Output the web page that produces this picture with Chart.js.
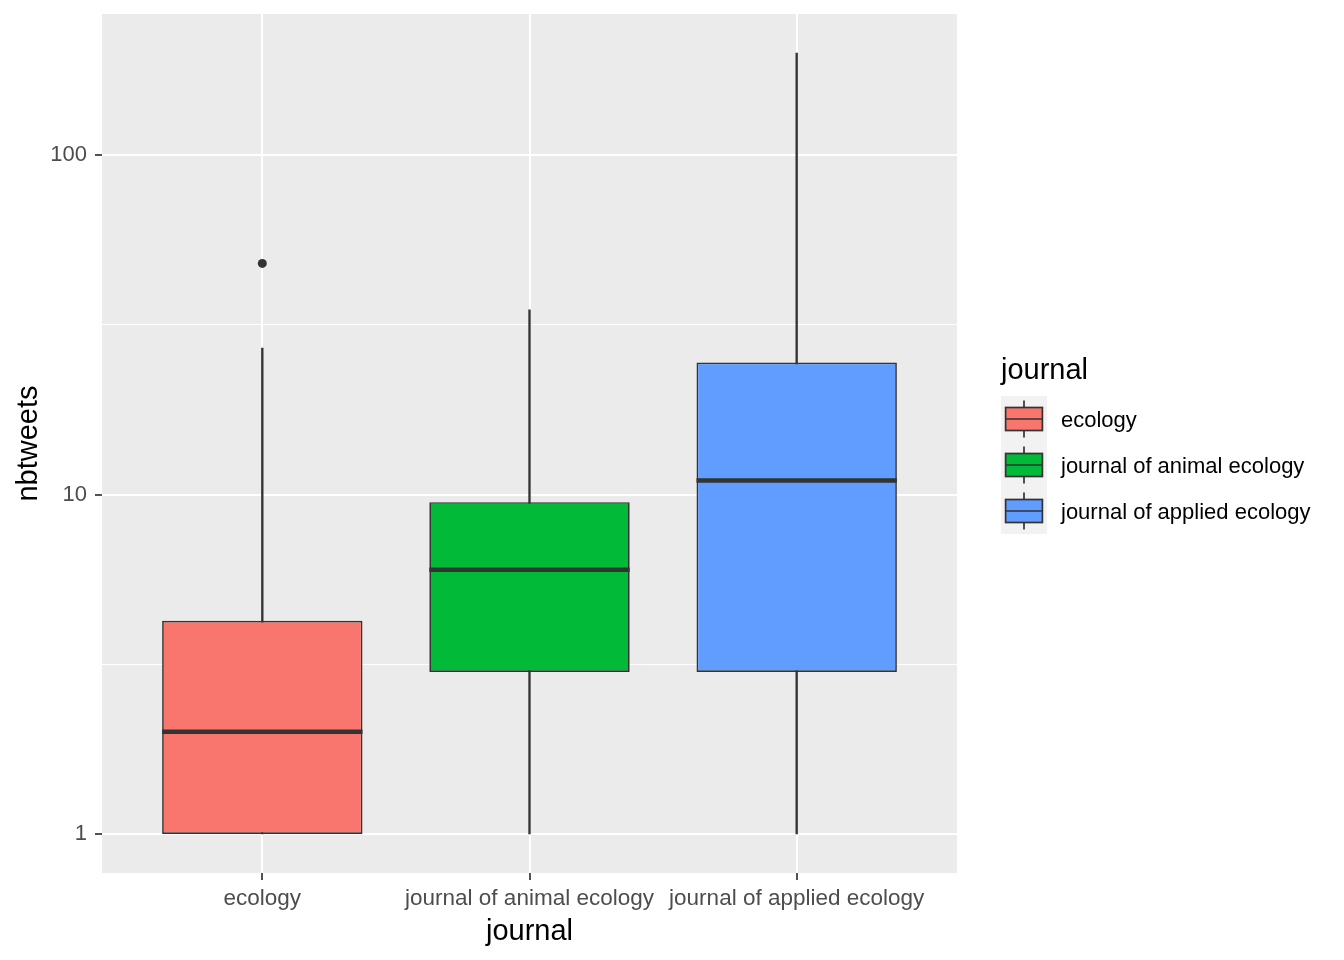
<!DOCTYPE html>
<html>
<head>
<meta charset="utf-8">
<script src="https://cdn.jsdelivr.net/npm/chart.js@4.4.1/dist/chart.umd.min.js"></script>
<style>
  body { margin: 0; background: #ffffff; }
  canvas { display: block; }
</style>
</head>
<body>
<canvas id="boxChart" width="1344" height="960"></canvas>
<script>
// Box plot data
const journals = ['ecology', 'journal of animal ecology', 'journal of applied ecology'];
const fillColors = ['#F8766D', '#00BA38', '#619CFF'];
const lowerWhisker = [1, 1, 1];
const q1 = [1, 3, 3];
const medians = [2, 6, 11];
const q3 = [4.25, 9.5, 24.5];
const upperWhisker = [27, 35, 200];
const outlierJournal = [1];
const outlierValue = [48];
const majorTicks = [1, 10, 100];
const minorTicks = [Math.sqrt(10), Math.sqrt(1000)];

// log scale range with ggplot-like 5% expansion
const logLo = Math.log10(Math.min(...lowerWhisker));
const logHi = Math.log10(Math.max(...upperWhisker, ...outlierValue));
const yMin = Math.pow(10, logLo - 0.05 * (logHi - logLo));
const yMax = Math.pow(10, logHi + 0.05 * (logHi - logLo));

const isMajor = v => majorTicks.some(m => Math.abs(m - v) < 1e-6);
const dark = '#333333';

// Panel background
const panelBg = {
  id: 'panelBg',
  beforeDraw(chart) {
    const {ctx, chartArea: a} = chart;
    ctx.save();
    ctx.fillStyle = '#EBEBEB';
    ctx.fillRect(a.left, a.top, a.right - a.left, a.bottom - a.top);
    ctx.restore();
  }
};

// ggplot style legend on the right
const boxLegend = {
  id: 'boxLegend',
  afterDraw(chart) {
    const {ctx, chartArea: a} = chart;
    const x0 = a.right + 44;
    const top = 396;
    const key = 46;
    ctx.save();
    ctx.fillStyle = '#000000';
    ctx.font = '29px "Liberation Sans", Arial, sans-serif';
    ctx.textBaseline = 'alphabetic';
    ctx.fillText('journal', x0, 379);
    ctx.fillStyle = '#F2F2F2';
    ctx.fillRect(x0, top, key, key * journals.length);
    journals.forEach((name, i) => {
      const y = top + i * key;
      const cx = x0 + key / 2;
      ctx.strokeStyle = dark;
      ctx.lineWidth = 1.7;
      ctx.beginPath();
      ctx.moveTo(cx, y + key * 0.1);
      ctx.lineTo(cx, y + key * 0.9);
      ctx.stroke();
      ctx.fillStyle = fillColors[i];
      ctx.fillRect(x0 + key * 0.1, y + key * 0.25, key * 0.8, key * 0.5);
      ctx.strokeRect(x0 + key * 0.1, y + key * 0.25, key * 0.8, key * 0.5);
      ctx.beginPath();
      ctx.moveTo(x0 + key * 0.1, y + key / 2);
      ctx.lineTo(x0 + key * 0.9, y + key / 2);
      ctx.stroke();
      ctx.fillStyle = '#000000';
      ctx.font = '22px "Liberation Sans", Arial, sans-serif';
      ctx.fillText(name, x0 + 60, y + key / 2 + 8);
    });
    ctx.restore();
  }
};

Chart.defaults.font.family = '"Liberation Sans", Arial, sans-serif';

const positions = journals.map((_, i) => i + 1);
const halfBox = ctx => {
  const x = ctx.chart.scales.x;
  return x.getPixelForValue(1.375) - x.getPixelForValue(1);
};

new Chart(document.getElementById('boxChart'), {
  type: 'bar',
  data: {
    datasets: [
      {
        // Outliers
        type: 'line',
        order: 0,
        showLine: false,
        data: outlierJournal.map((j, i) => ({x: j, y: outlierValue[i]})),
        pointRadius: 4.5,
        pointBackgroundColor: dark,
        pointBorderWidth: 0
      },
      {
        // Medians
        type: 'line',
        order: 1,
        showLine: false,
        data: positions.map((p, i) => ({x: p, y: medians[i]})),
        pointStyle: 'line',
        pointRadius: halfBox,
        pointBorderColor: dark,
        pointBorderWidth: 4.5
      },
      {
        // Boxes (q1 - q3)
        order: 2,
        grouped: false,
        data: positions.map((p, i) => ({x: p, y: [q1[i], q3[i]]})),
        backgroundColor: fillColors,
        borderColor: dark,
        borderWidth: 1.7,
        borderSkipped: false,
        barPercentage: 0.75,
        categoryPercentage: 1
      },
      {
        // Whiskers
        order: 3,
        grouped: false,
        data: positions.map((p, i) => ({x: p, y: [lowerWhisker[i], upperWhisker[i]]})),
        backgroundColor: dark,
        borderWidth: 0,
        barThickness: 1.7
      }
    ]
  },
  options: {
    responsive: false,
    animation: false,
    events: [],
    layout: {
      padding: {left: 0, right: 387, top: 14, bottom: 0}
    },
    plugins: {
      legend: {display: false},
      tooltip: {enabled: false}
    },
    scales: {
      x: {
        type: 'linear',
        offset: false,
        min: 0.4,
        max: journals.length + 0.6,
        afterBuildTicks: axis => { axis.ticks = positions.map(v => ({value: v})); },
        afterFit: axis => {
          axis.height = 87;
          axis.paddingLeft = 0;
          axis.paddingRight = 0;
        },
        border: {display: false},
        grid: {
          offset: false,
          color: '#FFFFFF',
          lineWidth: 2,
          tickColor: dark,
          tickWidth: 1.7,
          tickLength: 7
        },
        ticks: {
          callback: v => journals[v - 1],
          color: '#4D4D4D',
          font: {size: 22.5},
          padding: 5,
          maxRotation: 0,
          autoSkip: false
        },
        title: {
          display: true,
          text: 'journal',
          color: '#000000',
          font: {size: 29},
          padding: {top: 0, bottom: 10.6}
        }
      },
      y: {
        type: 'logarithmic',
        min: yMin,
        max: yMax,
        afterBuildTicks: axis => {
          axis.ticks = [...majorTicks, ...minorTicks].sort((a, b) => a - b).map(v => ({value: v}));
        },
        afterFit: axis => {
          axis.width = 102;
          axis.paddingTop = 0;
          axis.paddingBottom = 0;
        },
        border: {display: false},
        grid: {
          color: '#FFFFFF',
          lineWidth: c => isMajor(c.tick.value) ? 2 : 1,
          tickColor: c => isMajor(c.tick.value) ? dark : 'rgba(0,0,0,0)',
          tickWidth: 1.7,
          tickLength: 7
        },
        ticks: {
          callback: v => isMajor(v) ? String(v) : '',
          color: '#4D4D4D',
          font: {size: 22},
          padding: 8,
          autoSkip: false
        },
        title: {
          display: true,
          text: 'nbtweets',
          color: '#000000',
          font: {size: 29},
          padding: {top: 12, bottom: 0}
        }
      }
    }
  },
  plugins: [panelBg, boxLegend]
});
</script>
</body>
</html>
